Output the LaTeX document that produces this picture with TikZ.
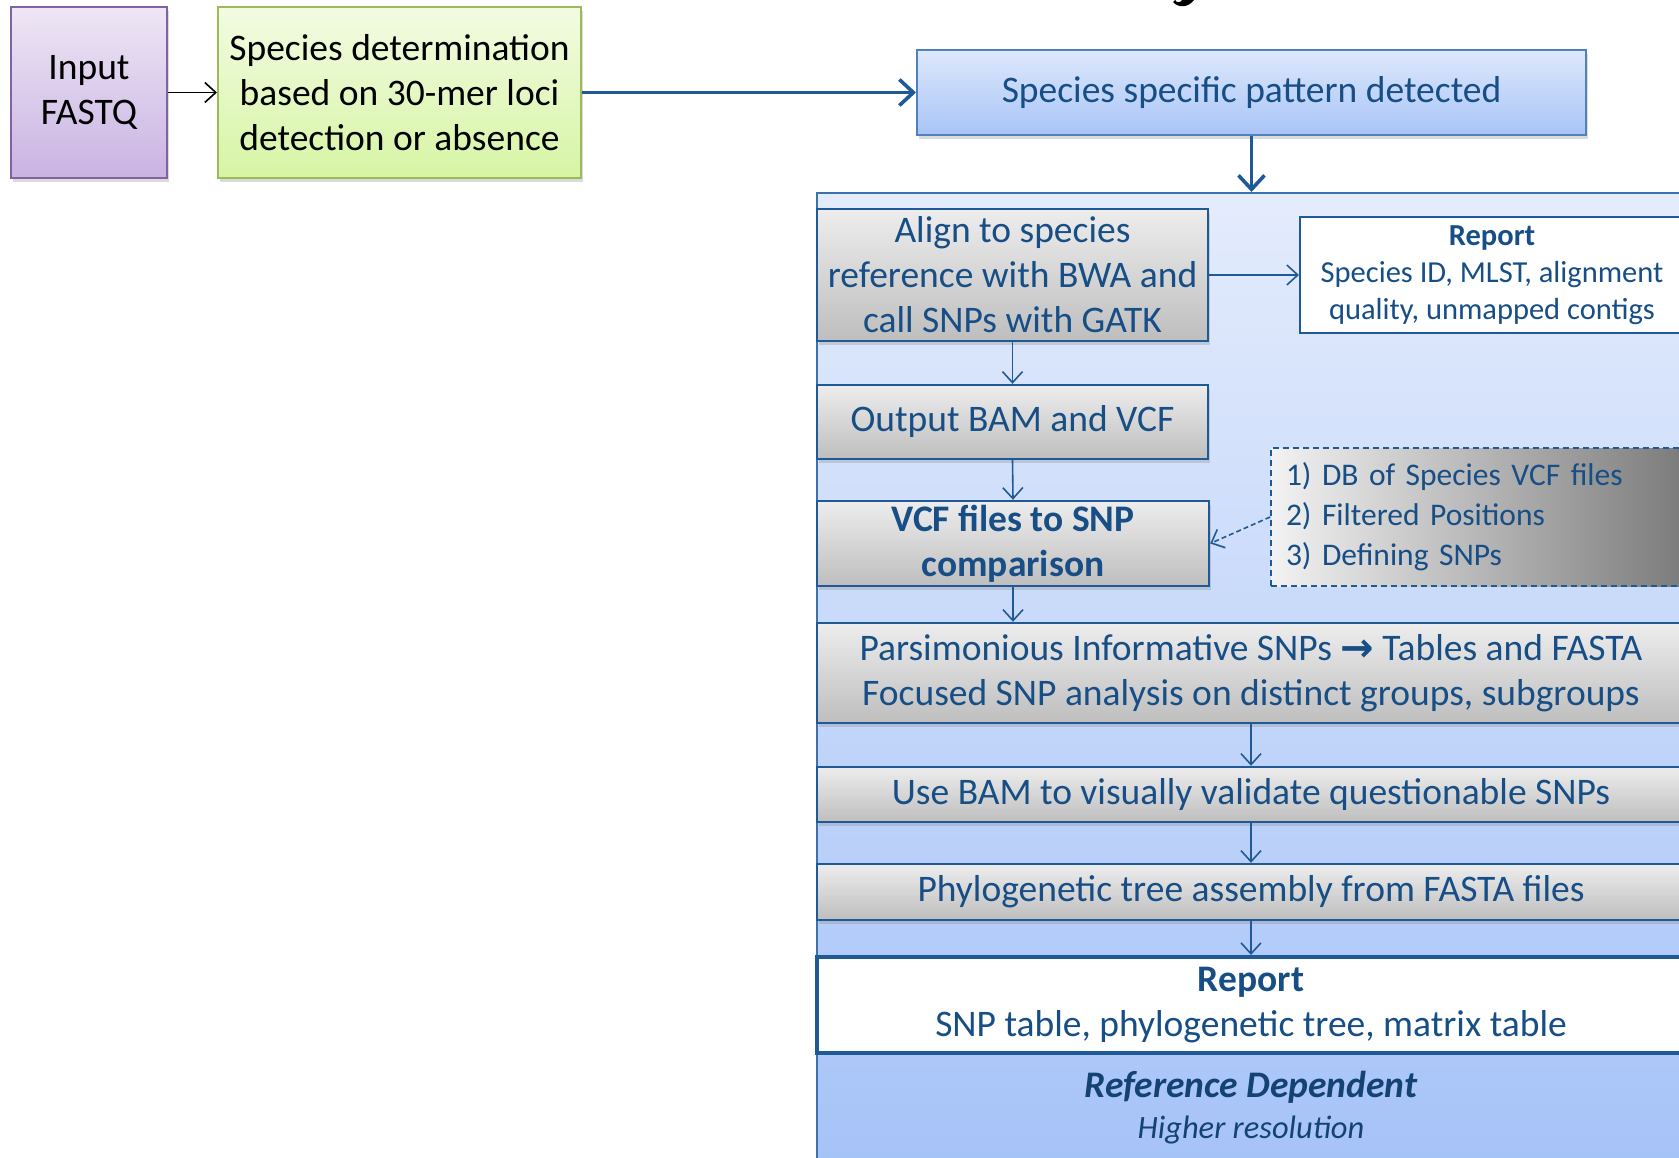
\documentclass[tikz,border=0pt]{standalone}
\usepackage{fontspec}
\setmainfont{Carlito}
\newfontfamily\symfont{DejaVu Sans}
\usetikzlibrary{arrows.meta,shadows}

\definecolor{ink}{HTML}{174E86}
\definecolor{edge}{HTML}{1F5A96}
\definecolor{purpTop}{HTML}{EEE6F5}
\definecolor{purpBot}{HTML}{C9B3E2}
\definecolor{purpEdge}{HTML}{8064A2}
\definecolor{grnTop}{HTML}{F3FBE3}
\definecolor{grnBot}{HTML}{D6F5A4}
\definecolor{grnEdge}{HTML}{9BBB59}
\definecolor{bluTop}{HTML}{DDE8FC}
\definecolor{bluBot}{HTML}{A8C4F6}
\definecolor{bluEdge}{HTML}{4F81BD}
\definecolor{panTop}{HTML}{E4ECFC}
\definecolor{panBot}{HTML}{A5C2F8}
\definecolor{panEdge}{HTML}{3B72AE}
\definecolor{gryTop}{HTML}{EDEDED}
\definecolor{gryBot}{HTML}{BEBEBE}

\tikzset{
  x=1pt, y=-1pt,
  soft/.style={drop shadow={opacity=0.28, shadow xshift=2pt, shadow yshift=-4pt}},
  basebox/.style={rectangle, inner sep=0pt, align=center, font=\fontsize{37.5}{45}\selectfont},
  startbox/.style={basebox, soft, draw=purpEdge, line width=2pt, top color=purpTop, bottom color=purpBot, text=black},
  detectbox/.style={basebox, soft, draw=grnEdge, line width=2pt, top color=grnTop, bottom color=grnBot, text=black},
  patbox/.style={basebox, soft, draw=bluEdge, line width=2pt, top color=bluTop, bottom color=bluBot, text=ink},
  stepbox/.style={basebox, soft, draw=edge, line width=2.4pt, top color=gryTop, bottom color=gryBot, text=ink},
  reportbox/.style={basebox, draw=edge, fill=white, text=ink},
  notebox/.style={rectangle, inner sep=0pt, draw=edge, line width=1.8pt, dash pattern=on 6pt off 4pt,
    left color=gryTop!70!white, right color=gray!95!black, text=ink, align=left,
    font=\fontsize{31.5}{40}\selectfont},
  flow/.style={draw=edge, line width=1.6pt, -{Straight Barb[length=11pt, width=20pt, line width=1.6pt]}},
  bigflow/.style={draw=edge, line width=3.6pt, -{Straight Barb[length=14pt, width=26pt, line width=3.6pt]}},
}

\begin{document}
\begin{tikzpicture}
\useasboundingbox (0,0) rectangle (1679,1158);
\clip (0,0) rectangle (1679,1158);
\fill[white] (0,0) rectangle (1679,1158);

% tail of a heading glyph running off the top edge
\fill[black] (1173,2) .. controls (1178,8) and (1188,8) .. (1194,0) -- (1182,0) .. controls (1180,3) and (1177,3) .. (1175,0) -- cycle;

% top row
\node[startbox, minimum width=156pt, minimum height=171pt] (inp) at (89,92.5) {Input\\FASTQ};
\node[detectbox, minimum width=363pt, minimum height=171pt] (spec) at (399.5,92.5)
  {Species determination\\based on 30-mer loci\\detection or absence};
\node[patbox, minimum width=669pt, minimum height=85pt] (pat) at (1251.5,92.5) {Species specific pattern detected};

% reference-dependent panel
\node[rectangle, draw=panEdge, line width=2pt, top color=panTop, bottom color=panBot,
      minimum width=873pt, minimum height=980pt, inner sep=0pt] (panel) at (1253.5,683) {};

\node[stepbox, minimum width=391pt, minimum height=132pt] (align) at (1012.5,275)
  {Align to species\\reference with BWA and\\call SNPs with GATK};
\node[reportbox, line width=2pt, minimum width=384pt, minimum height=116pt,
      font=\fontsize{30.5}{37}\selectfont] (rep1) at (1492,275)
  {\textbf{Report}\\Species ID, MLST, alignment\\quality, unmapped contigs};
\node[stepbox, minimum width=391pt, minimum height=74pt] (bam) at (1012.5,422) {Output BAM and VCF};
\node[stepbox, minimum width=392pt, minimum height=85pt] (vcf) at (1013,543.5)
  {\textbf{VCF files to SNP}\\\textbf{comparison}};
\node[notebox, minimum width=420pt, minimum height=138pt, text width=390pt] (note) at (1481,517)
  {1) DB of Species VCF files\\2) Filtered Positions\\3) Defining SNPs};
\node[stepbox, minimum width=868pt, minimum height=100pt] (pars) at (1251,673)
  {Parsimonious Informative SNPs {\symfont\bfseries\fontsize{40}{45}\selectfont\raisebox{-1pt}{→}} Tables and FASTA\\Focused SNP analysis on distinct groups, subgroups};
\node[stepbox, minimum width=868pt, minimum height=55pt] (use) at (1251,794.5)
  {Use BAM to visually validate questionable SNPs};
\node[stepbox, minimum width=868pt, minimum height=56pt] (phy) at (1251,892)
  {Phylogenetic tree assembly from FASTA files};
\node[reportbox, line width=4pt, minimum width=868pt, minimum height=96pt] (rep2) at (1251,1005)
  {\textbf{Report}\\SNP table, phylogenetic tree, matrix table};
\node[text=ink!85!black, align=center, inner sep=0pt] (refdep) at (1251,1087)
  {\fontsize{37.5}{40}\selectfont\bfseries\itshape Reference Dependent};
\node[text=ink!85!black, align=center, inner sep=0pt] (hires) at (1251,1130)
  {\fontsize{32.5}{34}\selectfont\itshape Higher resolution};

% connectors
\draw[line width=1.6pt, -{Straight Barb[length=11pt, width=20pt, line width=1.6pt]}] (inp.east) -- (spec.west);
\draw[bigflow] (spec.east) -- (pat.west);
\draw[bigflow] (pat.south) -- (panel.north -| pat.south);
\draw[flow] (align.east) -- (rep1.west);
\draw[flow] (align.south) -- (bam.north);
\draw[flow] (bam.south) -- (vcf.north);
\draw[flow] (vcf.south) -- (vcf.south |- pars.north);
\draw[flow, dash pattern=on 5pt off 3pt] (note.west) -- (vcf.east);
\draw[flow] (pars.south) -- (use.north);
\draw[flow] (use.south) -- (phy.north);
\draw[flow] (phy.south) -- (rep2.north);
\end{tikzpicture}
\end{document}
